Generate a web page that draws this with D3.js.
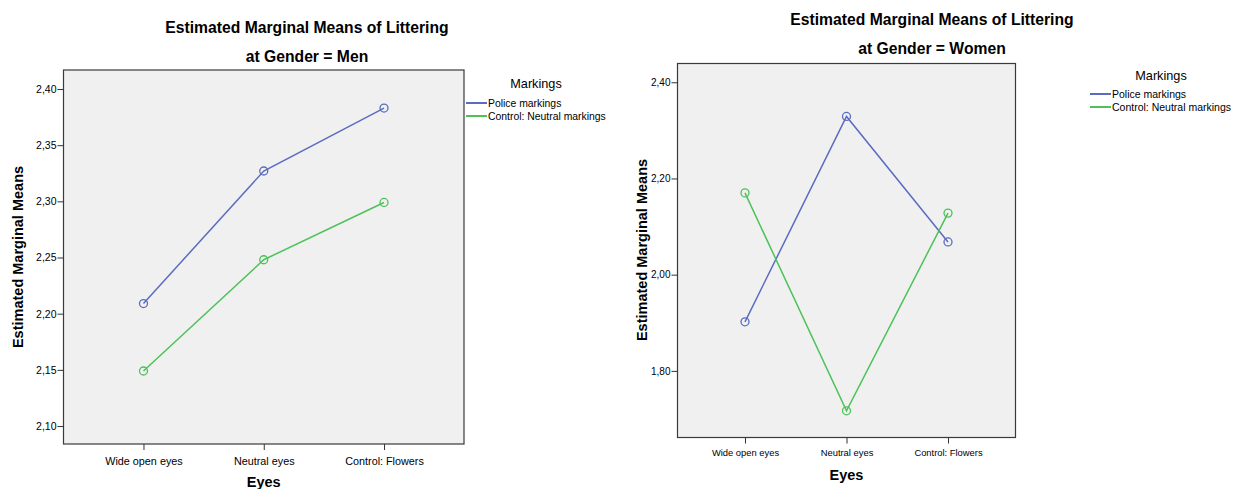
<!DOCTYPE html>
<html><head><meta charset="utf-8">
<script src="https://cdn.jsdelivr.net/npm/d3@7"></script>
<style>
body{margin:0;background:#fff;}
text{font-family:Arial,"Liberation Sans",sans-serif;fill:#000;}
</style></head>
<body><svg id="c" width="1238" height="489"></svg>
<script>
const categories = ["Wide open eyes", "Neutral eyes", "Control: Flowers"];
const seriesNames = ["Police markings", "Control: Neutral markings"];
const menPolice = [2.209, 2.327, 2.383];
const menControl = [2.149, 2.248, 2.299];
const womenPolice = [1.902, 2.329, 2.068];
const womenControl = [2.170, 1.717, 2.128];
const menTicks = [2.10, 2.15, 2.20, 2.25, 2.30, 2.35, 2.40];
const womenTicks = [1.80, 2.00, 2.20, 2.40];
const colors = ["#5b6cc0", "#4cc258"];

const svg = d3.select("#c");
const fmt = v => d3.format(".2f")(v).replace(".", ",");

function panel(o) {
  const g = svg.append("g");
  const x = d3.scalePoint().domain(categories).range([o.x0, o.x1]).padding(0.665);
  const y = d3.scaleLinear().domain(o.domain).range([o.y1, o.y0]);
  g.append("rect").attr("x", o.x0).attr("y", o.y0).attr("width", o.x1 - o.x0).attr("height", o.y1 - o.y0)
    .attr("fill", "#f0f0f0").attr("stroke", "#3a3a3a").attr("stroke-width", 1.2);
  const ya = g.append("g").attr("transform", `translate(${o.x0},0)`)
    .call(d3.axisLeft(y).tickValues(o.ticks).tickFormat(fmt).tickSize(6).tickPadding(1));
  ya.select(".domain").remove();
  ya.selectAll("line").attr("stroke", "#333");
  ya.selectAll("text").style("font-size", o.yfs + "px").attr("fill", "#111");
  const xa = g.append("g").attr("transform", `translate(0,${o.y1})`)
    .call(d3.axisBottom(x).tickSize(6).tickPadding(o.xpad));
  xa.select(".domain").remove();
  xa.selectAll("line").attr("stroke", "#333");
  xa.selectAll("text").style("font-size", o.xfs + "px").attr("fill", "#111");
  [o.s1, o.s2].forEach((vals, i) => {
    const pts = vals.map((v, j) => [x(categories[j]), y(v)]);
    g.append("path").attr("d", d3.line()(pts)).attr("fill", "none").attr("stroke", colors[i]).attr("stroke-width", 1.5);
    g.selectAll(null).data(pts).enter().append("circle").attr("cx", d => d[0]).attr("cy", d => d[1]).attr("r", 4)
      .attr("fill", "none").attr("stroke", colors[i]).attr("stroke-width", 1.3);
  });
  g.append("text").attr("x", o.tcx).attr("y", o.t1y).attr("text-anchor", "middle").style("font-size", "15.7px").style("font-weight", "bold")
    .text("Estimated Marginal Means of Littering");
  g.append("text").attr("x", o.tcx).attr("y", o.t2y).attr("text-anchor", "middle").style("font-size", "15.7px").style("font-weight", "bold")
    .text(o.sub);
  g.append("text").attr("transform", `translate(${o.ylx},${o.yly}) rotate(-90)`).attr("text-anchor", "middle")
    .style("font-size", "14.5px").style("font-weight", "bold").text("Estimated Marginal Means");
  g.append("text").attr("x", (o.x0 + o.x1) / 2).attr("y", o.xly).attr("text-anchor", "middle")
    .style("font-size", "14.5px").style("font-weight", "bold").text("Eyes");
  // legend
  g.append("text").attr("x", o.lgx).attr("y", o.lgy).attr("text-anchor", "middle").style("font-size", "12.7px").attr("fill", "#222").text("Markings");
  seriesNames.forEach((s, i) => {
    const yy = o.lly + i * o.lstep;
    g.append("line").attr("x1", o.llx).attr("x2", o.llx + o.llen).attr("y1", yy).attr("y2", yy).attr("stroke", colors[i]).attr("stroke-width", 2);
    g.append("text").attr("x", o.llx + o.llen + 1).attr("y", yy + 3.7).style("font-size", o.lfs + "px").attr("fill", "#111").text(s);
  });
}

panel({x0: 63.5, x1: 464, y0: 70, y1: 444, domain: [2.084, 2.4169], ticks: menTicks, s1: menPolice, s2: menControl,
  yfs: 10.5, xfs: 10.8, xpad: 7, tcx: 307, t1y: 33, t2y: 62, sub: "at Gender = Men", ylx: 23, yly: 257, xly: 487,
  lgx: 536, lgy: 88, llx: 466, llen: 21, lly: 103, lstep: 13, lfs: 10.4});
panel({x0: 677.5, x1: 1015.5, y0: 63.5, y1: 437.5, domain: [1.6615, 2.439], ticks: womenTicks, s1: womenPolice, s2: womenControl,
  yfs: 10, xfs: 9.4, xpad: 6, tcx: 932, t1y: 25, t2y: 54, sub: "at Gender = Women", ylx: 647, yly: 250, xly: 480,
  lgx: 1161, lgy: 80, llx: 1090, llen: 21, lly: 94, lstep: 13, lfs: 10.5});
</script></body></html>
